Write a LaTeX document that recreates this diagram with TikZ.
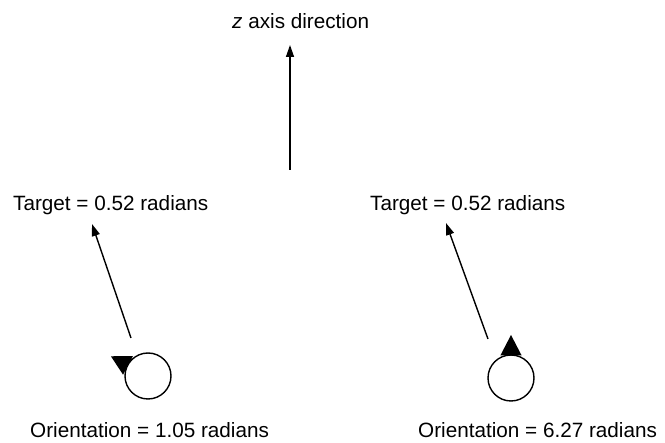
\documentclass[tikz,border=0pt]{standalone}
\usepackage{fontspec}
\setmainfont{Liberation Sans}
\usetikzlibrary{arrows.meta,calc}
\begin{document}
\begin{tikzpicture}[x=1pt,y=-1pt,
  lbl/.style={anchor=base west,inner sep=0pt,font=\fontsize{20.7}{24}\selectfont},
  vec/.style={line width=1.4pt,-{Triangle[length=12pt,width=8pt]}},
  body/.style={circle,draw,line width=1.4pt,minimum size=46pt,inner sep=0pt},
  headmark/.style={fill=black}]
\useasboundingbox (0,0) rectangle (665,443);
% texts
\node[lbl] (zt) at (232,29) {\textit{z} axis direction};
\node[lbl] (tl) at (13,210.5) {Target = 0.52 radians};
\node[lbl] (tr) at (370,210.5) {Target = 0.52 radians};
\node[lbl] (ol) at (30,438) {Orientation = 1.05 radians};
\node[lbl] (or) at (418,438) {Orientation = 6.27 radians};
% z axis arrow
\coordinate (z0) at (290,170);
\coordinate (z1) at (290,45);
\draw[vec] (z0) -- (z1);
% target arrows
\coordinate (l0) at (131,338);
\coordinate (l1) at (92,224);
\draw[vec] (l0) -- (l1);
\coordinate (r0) at (488,339);
\coordinate (r1) at (446,223);
\draw[vec] (r0) -- (r1);
% bodies
\node[body] (cl) at (148,376) {};
\node[body] (cr) at (511,378) {};
% orientation marks
\fill[headmark] ($(cl)+(152:42pt)$) -- ($(cl)+(127:25pt)$) -- ($(cl)+(177:25pt)$) -- cycle;
\fill[headmark] ($(cr)+(90:43pt)$) -- ($(cr)+(65:25pt)$) -- ($(cr)+(115:25pt)$) -- cycle;
\end{tikzpicture}
\end{document}
